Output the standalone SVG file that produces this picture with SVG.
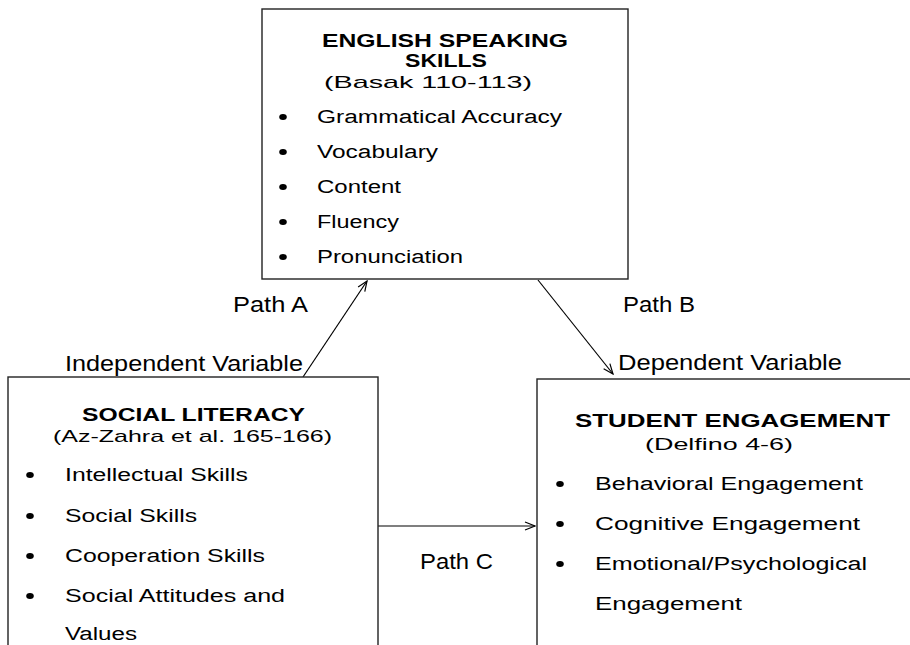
<svg xmlns="http://www.w3.org/2000/svg" width="910" height="645" viewBox="0 0 910 645">
<defs>
<marker id="arr" viewBox="0 0 12 10" refX="11" refY="5" markerWidth="12" markerHeight="10" markerUnits="userSpaceOnUse" orient="auto">
<path d="M1,1 L11,5 L1,9" fill="none" stroke="#000" stroke-width="1.2"/>
</marker>
<style>
.box{fill:#fff;stroke:#222;stroke-width:1.4}
.t{font-family:"Liberation Sans",Arial,sans-serif;fill:#000}
.h{font-size:17.5px;font-weight:bold}
.s{font-size:17px}
.i{font-size:18px}
.l{font-size:22px}
.b{fill:#000}
.c{stroke:#000;stroke-width:1.2;fill:none;marker-end:url(#arr)}
</style>
</defs>
<rect width="910" height="645" fill="#fff"/>

<g id="connectors">
<line class="c" x1="303" y1="377" x2="367" y2="281"/>
<line class="c" x1="538" y1="280" x2="613" y2="374"/>
<line class="c" x1="378" y1="526" x2="535" y2="526"/>
</g>

<g id="labels">
<text class="t l" x="233" y="312" textLength="75" lengthAdjust="spacingAndGlyphs">Path A</text>
<text class="t l" x="623" y="312" textLength="72" lengthAdjust="spacingAndGlyphs">Path B</text>
<text class="t l" x="65" y="371" textLength="238" lengthAdjust="spacingAndGlyphs">Independent Variable</text>
<text class="t l" x="618" y="370" textLength="224" lengthAdjust="spacingAndGlyphs">Dependent Variable</text>
<text class="t l" x="420" y="569" textLength="73" lengthAdjust="spacingAndGlyphs">Path C</text>
</g>

<g id="english-speaking-skills">
<rect class="box" x="262" y="9" width="366" height="270"/>
<text class="t h" x="322" y="47" textLength="246" lengthAdjust="spacingAndGlyphs">ENGLISH SPEAKING</text>
<text class="t h" x="405" y="67" textLength="82" lengthAdjust="spacingAndGlyphs">SKILLS</text>
<text class="t s" x="324" y="88" textLength="208" lengthAdjust="spacingAndGlyphs">(Basak 110-113)</text>
<ellipse class="b" cx="283" cy="117" rx="3.8" ry="3"/>
<text class="t i" x="317" y="123" textLength="245" lengthAdjust="spacingAndGlyphs">Grammatical Accuracy</text>
<ellipse class="b" cx="283" cy="152" rx="3.8" ry="3"/>
<text class="t i" x="317" y="158" textLength="121" lengthAdjust="spacingAndGlyphs">Vocabulary</text>
<ellipse class="b" cx="283" cy="187" rx="3.8" ry="3"/>
<text class="t i" x="317" y="193" textLength="84" lengthAdjust="spacingAndGlyphs">Content</text>
<ellipse class="b" cx="283" cy="222" rx="3.8" ry="3"/>
<text class="t i" x="317" y="228" textLength="82" lengthAdjust="spacingAndGlyphs">Fluency</text>
<ellipse class="b" cx="283" cy="257" rx="3.8" ry="3"/>
<text class="t i" x="317" y="263" textLength="146" lengthAdjust="spacingAndGlyphs">Pronunciation</text>
</g>

<g id="social-literacy">
<rect class="box" x="8" y="377" width="370" height="300"/>
<text class="t h" x="82" y="421" textLength="223" lengthAdjust="spacingAndGlyphs">SOCIAL LITERACY</text>
<text class="t s" x="53" y="442" textLength="279" lengthAdjust="spacingAndGlyphs">(Az-Zahra et al. 165-166)</text>
<ellipse class="b" cx="30" cy="475" rx="3.8" ry="3"/>
<text class="t i" x="65" y="481" textLength="183" lengthAdjust="spacingAndGlyphs">Intellectual Skills</text>
<ellipse class="b" cx="30" cy="516" rx="3.8" ry="3"/>
<text class="t i" x="65" y="522" textLength="132" lengthAdjust="spacingAndGlyphs">Social Skills</text>
<ellipse class="b" cx="30" cy="556" rx="3.8" ry="3"/>
<text class="t i" x="65" y="562" textLength="200" lengthAdjust="spacingAndGlyphs">Cooperation Skills</text>
<ellipse class="b" cx="30" cy="596" rx="3.8" ry="3"/>
<text class="t i" x="65" y="602" textLength="220" lengthAdjust="spacingAndGlyphs">Social Attitudes and</text>
<text class="t i" x="65" y="640" textLength="72" lengthAdjust="spacingAndGlyphs">Values</text>
</g>

<g id="student-engagement">
<rect class="box" x="537" y="379" width="400" height="300"/>
<text class="t h" x="575" y="427" textLength="315" lengthAdjust="spacingAndGlyphs">STUDENT ENGAGEMENT</text>
<text class="t s" x="645" y="450" textLength="148" lengthAdjust="spacingAndGlyphs">(Delfino 4-6)</text>
<ellipse class="b" cx="560" cy="484" rx="3.8" ry="3"/>
<text class="t i" x="595" y="490" textLength="268" lengthAdjust="spacingAndGlyphs">Behavioral Engagement</text>
<ellipse class="b" cx="560" cy="524" rx="3.8" ry="3"/>
<text class="t i" x="595" y="530" textLength="265" lengthAdjust="spacingAndGlyphs">Cognitive Engagement</text>
<ellipse class="b" cx="560" cy="564" rx="3.8" ry="3"/>
<text class="t i" x="595" y="570" textLength="272" lengthAdjust="spacingAndGlyphs">Emotional/Psychological</text>
<text class="t i" x="595" y="610" textLength="147" lengthAdjust="spacingAndGlyphs">Engagement</text>
</g>
</svg>
